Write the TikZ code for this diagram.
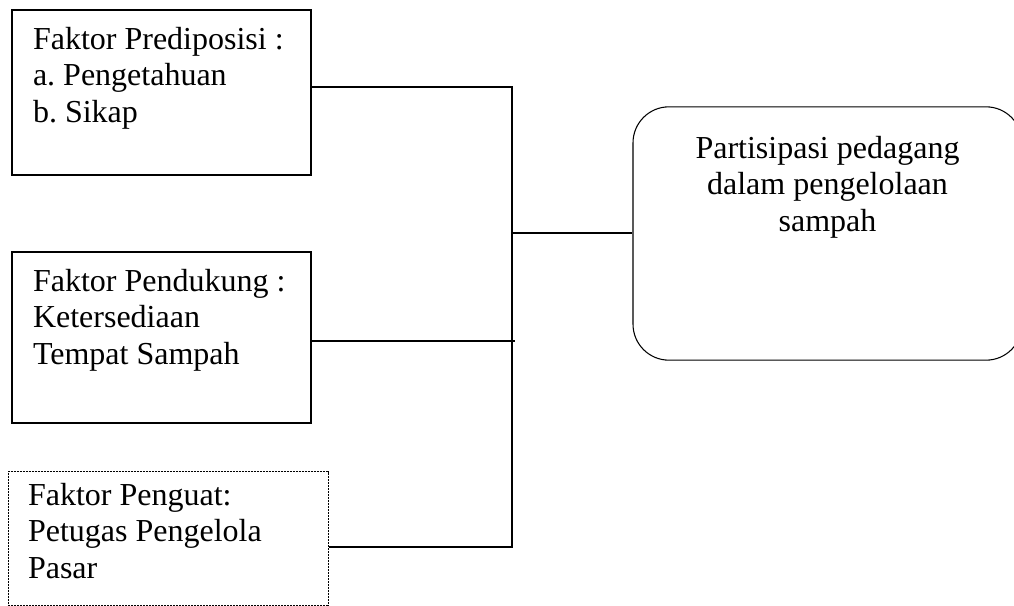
\documentclass[tikz,border=0pt]{standalone}
\usepackage{fontspec}
\setmainfont{Liberation Serif}
\usepackage{tikz}
\usetikzlibrary{shapes,arrows}
\tikzstyle{block} = [rectangle, draw, line width=1.8pt, text width=192.75pt,
    align=flush left, inner xsep=15.75pt, inner ysep=12.75pt, font=\fontsize{24}{27.4}\selectfont]
\tikzstyle{dotblock} = [rectangle, draw, line width=0.75pt, dash pattern=on 1.5pt off 0.75pt,
    text width=210pt, align=flush left, inner xsep=15pt, inner ysep=8.25pt, font=\fontsize{24}{27.4}\selectfont]
\tikzstyle{cloud} = [rectangle, draw, line width=0.8pt, rounded corners=27pt,
    text width=261.75pt, align=flush center, inner xsep=15pt, inner ysep=21.75pt, font=\fontsize{24}{27.4}\selectfont]
\tikzstyle{line} = [draw, line width=1.5pt]

\begin{document}
\begin{tikzpicture}[x=0.75pt, y=0.75pt]
			\useasboundingbox (0,0) rectangle (1014,-606);
			% 
			\node [block, text depth=81.85pt] (predis) at (161.5,-92.5) {Faktor Prediposisi :\\a.\ Pengetahuan\\b.\ Sikap};
			\node [block, text depth=86.35pt, below of=predis, node distance=183.75pt] (dukung) {\mbox{Faktor Pendukung :}\\Ketersediaan\\Tempat Sampah};
			\node [dotblock, text depth=66.85pt, below of=dukung, node distance=150.75pt, xshift=4.9pt] (kuat) {Faktor Penguat:\\Petugas Pengelola\\Pasar};

			\node [cloud, text depth=129.85pt, right of=predis, node distance=499.5pt, yshift=-105.75pt] (partisipasi) {Partisipasi pedagang\\dalam pengelolaan\\sampah};

			\coordinate (busTop) at (512,-87);
			\coordinate (busMid) at (512,-341);
			\coordinate (busBot) at (512,-547);

			% Draw edges
			\path [line] (predis.east |- busTop) -- (busTop) -- (busBot) -- (kuat.east |- busBot);
			\path [line] (dukung.east |- busMid) -- ([xshift=2.25pt]busMid);
			\path [line] (partisipasi.west -| busTop) -- (partisipasi.west);
%
	\end{tikzpicture}
\end{document}
